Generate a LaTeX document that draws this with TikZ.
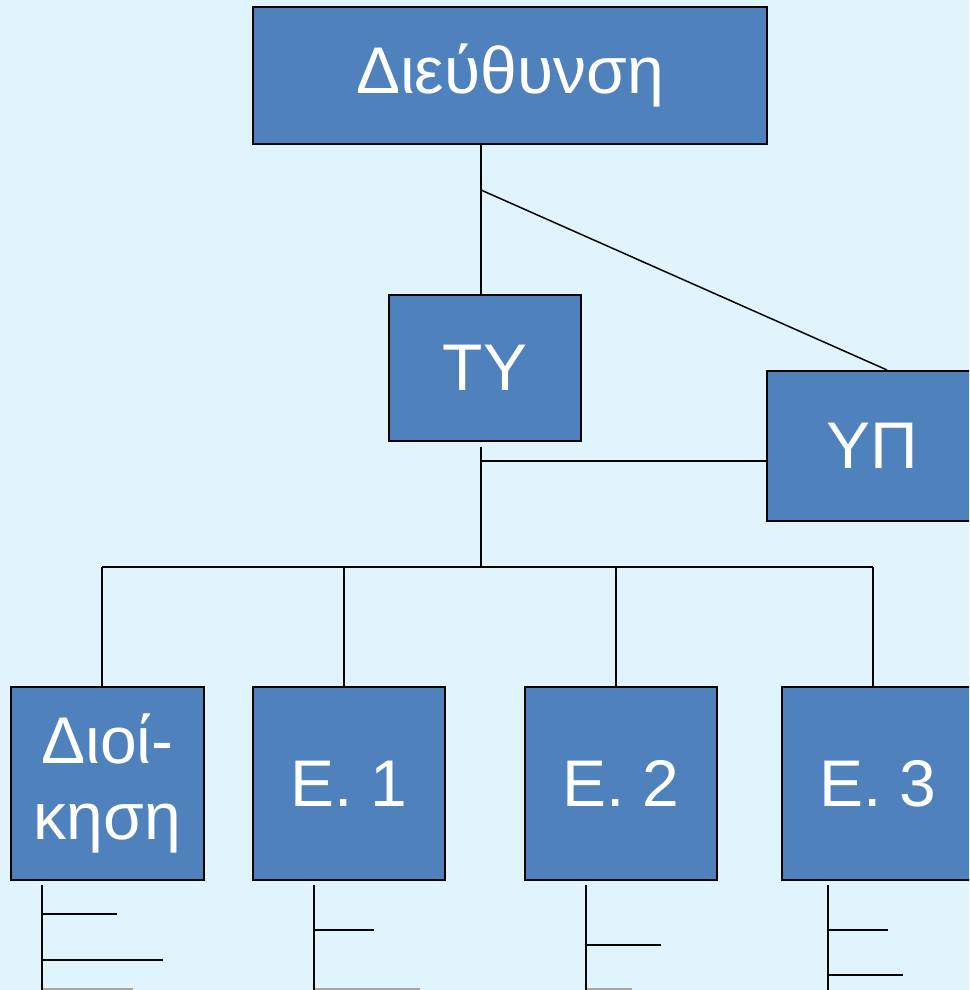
\documentclass[tikz,border=0pt]{standalone}
\usepackage{fontspec}
\setmainfont{Liberation Sans}
\definecolor{bg}{HTML}{E0F4FD}
\definecolor{boxblue}{HTML}{4F81BD}
\begin{document}
\begin{tikzpicture}[x=1pt,y=-1pt,
  box/.style={draw=black, line width=2pt, fill=boxblue, text=white,
    font=\fontsize{66}{76}\selectfont, inner sep=0pt, align=center},
  conn/.style={line width=1.5pt, draw=black},
  greyline/.style={line width=1.5pt, draw=black!35}]
\fill[bg] (0,0) rectangle (969,990);
\useasboundingbox (0,0) rectangle (969,990);
\clip (0,0) rectangle (969,990);
% boxes
\node[box, minimum width=514pt, minimum height=137pt] (dir) at (510,75.5) {Διεύθυνση};
\node[box, minimum width=192pt, minimum height=146pt] (ty) at (485,368) {ΤΥ};
\node[box, minimum width=210pt, minimum height=150pt] (up) at (872,446) {ΥΠ};
\node[box, minimum width=193pt, minimum height=193pt] (dioi) at (107.5,783.5) {Διοί-\\κηση};
\node[box, minimum width=192pt, minimum height=193pt] (e1) at (349,783.5) {Ε. 1};
\node[box, minimum width=192pt, minimum height=193pt] (e2) at (621,783.5) {Ε. 2};
\node[box, minimum width=192pt, minimum height=193pt] (e3) at (878,783.5) {Ε. 3};
% junction coordinates
\coordinate (j1) at (481,190);
\coordinate (tyb) at (481,447);
\coordinate (j2) at (481,461);
\coordinate (bus) at (481,567);
\coordinate (busl) at (102,567);
\coordinate (busr) at (873,567);
% top connectors
\draw[conn] (dir.south -| j1) -- (ty.north -| j1);
\draw[conn] (j1) -- ([xshift=15pt]up.north);
\draw[conn] (tyb) -- (bus);
\draw[conn] (j2) -- (up.west |- j2);
\draw[conn] (busl) -- (busr);
\draw[conn] (busl) -- (dioi.north -| busl);
\draw[conn] (bus -| 344,0) -- (e1.north -| 344,0);
\draw[conn] (bus -| 616,0) -- (e2.north -| 616,0);
\draw[conn] (busr) -- (e3.north -| busr);
% sub-lists below boxes
\coordinate (d0) at (42,885);
\coordinate (a0) at (314,885);
\coordinate (b0) at (586,885);
\coordinate (c0) at (828,885);
\draw[conn] (d0) -- (42,992);
\draw[conn] (d0 |- 0,914) -- (117,914);
\draw[conn] (d0 |- 0,960) -- (163,960);
\draw[greyline] (43,989) -- (133,989);
\draw[conn] (a0) -- (314,992);
\draw[conn] (a0 |- 0,930) -- (374,930);
\draw[greyline] (315,989) -- (420,989);
\draw[conn] (b0) -- (586,992);
\draw[conn] (b0 |- 0,945) -- (661,945);
\draw[greyline] (587,989) -- (632,989);
\draw[conn] (c0) -- (828,992);
\draw[conn] (c0 |- 0,930) -- (888,930);
\draw[conn] (c0 |- 0,975) -- (903,975);
\end{tikzpicture}
\end{document}
